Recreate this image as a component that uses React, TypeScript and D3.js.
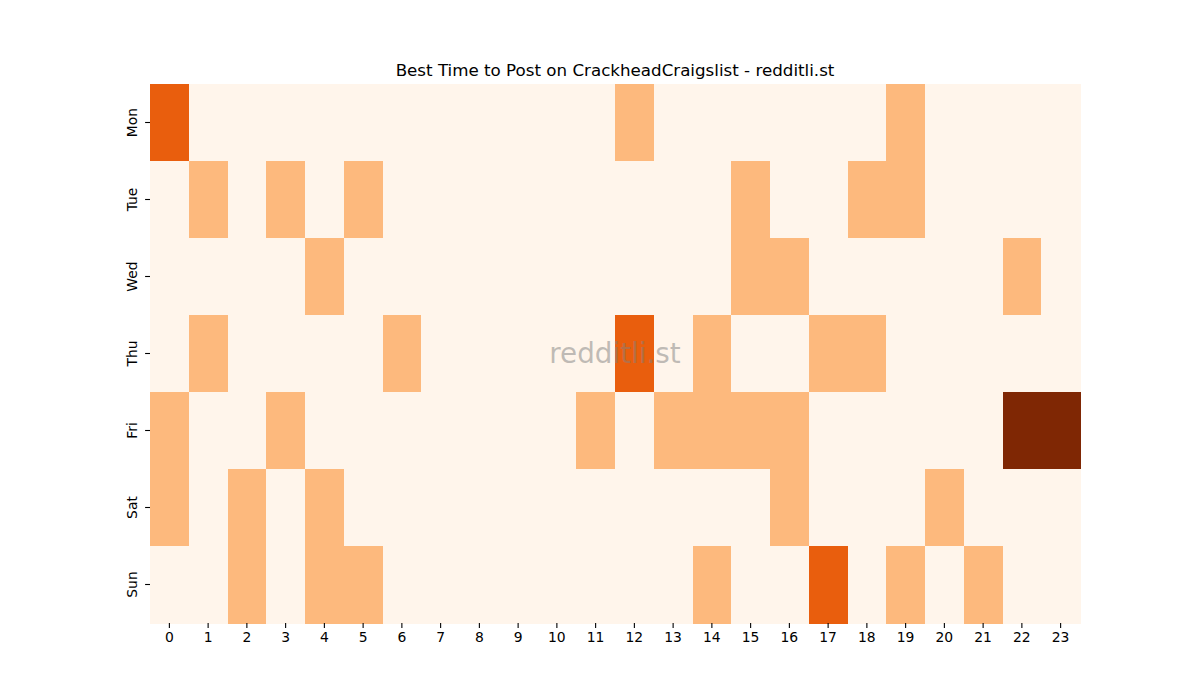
import React, { useEffect, useRef } from 'react';
import * as d3 from 'd3';

const days = ['Mon', 'Tue', 'Wed', 'Thu', 'Fri', 'Sat', 'Sun'];
const hours = d3.range(24);

// post counts per weekday, hour 0..23
const mon = [2, 0, 0, 0, 0, 0, 0, 0, 0, 0, 0, 0, 1, 0, 0, 0, 0, 0, 0, 1, 0, 0, 0, 0];
const tue = [0, 1, 0, 1, 0, 1, 0, 0, 0, 0, 0, 0, 0, 0, 0, 1, 0, 0, 1, 1, 0, 0, 0, 0];
const wed = [0, 0, 0, 0, 1, 0, 0, 0, 0, 0, 0, 0, 0, 0, 0, 1, 1, 0, 0, 0, 0, 0, 1, 0];
const thu = [0, 1, 0, 0, 0, 0, 1, 0, 0, 0, 0, 0, 2, 0, 1, 0, 0, 1, 1, 0, 0, 0, 0, 0];
const fri = [1, 0, 0, 1, 0, 0, 0, 0, 0, 0, 0, 1, 0, 1, 1, 1, 1, 0, 0, 0, 0, 0, 3, 3];
const sat = [1, 0, 1, 0, 1, 0, 0, 0, 0, 0, 0, 0, 0, 0, 0, 0, 1, 0, 0, 0, 1, 0, 0, 0];
const sun = [0, 0, 1, 0, 1, 1, 0, 0, 0, 0, 0, 0, 0, 0, 1, 0, 0, 2, 0, 1, 0, 1, 0, 0];
const counts = [mon, tue, wed, thu, fri, sat, sun];

const palette = ['#fff5eb', '#fdb97d', '#e95e0d', '#7f2704'];

export default function App() {
  const ref = useRef<SVGSVGElement>(null);

  useEffect(() => {
    const width = 1200, height = 700;
    const margin = { top: 84, right: 120, bottom: 77, left: 150 };
    const font = 'DejaVu Sans, sans-serif';

    const svg = d3.select(ref.current);
    svg.selectAll('*').remove();

    const x = d3.scaleBand<number>().domain(hours).range([margin.left, width - margin.right]);
    const y = d3.scaleBand<string>().domain(days).range([margin.top, height - margin.bottom]);
    const color = d3.scaleLinear<string>().domain([0, 1, 2, 3]).range(palette);

    const cells = counts.flatMap((row, i) => row.map((v, h) => ({ day: days[i], hour: h, v })));

    svg.append('g')
      .selectAll('rect')
      .data(cells)
      .join('rect')
      .attr('x', d => x(d.hour)!)
      .attr('y', d => y(d.day)!)
      .attr('width', x.bandwidth() + 0.5)
      .attr('height', y.bandwidth() + 0.5)
      .attr('fill', d => color(d.v))
      .attr('shape-rendering', 'crispEdges');

    // x axis
    svg.append('g')
      .attr('transform', `translate(0,${height - margin.bottom})`)
      .call(d3.axisBottom(x).tickSize(4.9).tickPadding(4.5))
      .call(g => g.select('.domain').remove())
      .call(g => g.selectAll('line').attr('stroke', '#000').attr('stroke-width', 1.1))
      .call(g => g.selectAll('text').attr('font-size', 13.9).attr('font-family', font).attr('fill', '#000'));

    // y axis, rotated labels
    const yAxis = svg.append('g')
      .attr('transform', `translate(${margin.left},0)`)
      .call(d3.axisLeft(y).tickSize(4.9).tickPadding(0))
      .call(g => g.select('.domain').remove())
      .call(g => g.selectAll('line').attr('stroke', '#000').attr('stroke-width', 1.1));
    yAxis.selectAll('text')
      .attr('font-size', 13.9)
      .attr('font-family', font)
      .attr('fill', '#000')
      .attr('x', null)
      .attr('dy', null)
      .attr('text-anchor', 'middle')
      .attr('transform', 'translate(-13,0) rotate(-90)');

    svg.append('text')
      .attr('x', (margin.left + width - margin.right) / 2)
      .attr('y', 76)
      .attr('text-anchor', 'middle')
      .attr('font-family', font)
      .attr('font-size', 16.7)
      .text('Best Time to Post on CrackheadCraigslist - redditli.st');

    // watermark
    svg.append('text')
      .attr('x', (margin.left + width - margin.right) / 2)
      .attr('y', (margin.top + height - margin.bottom) / 2)
      .attr('dy', '0.35em')
      .attr('text-anchor', 'middle')
      .attr('font-family', font)
      .attr('font-size', 27.8)
      .attr('fill', 'gray')
      .attr('fill-opacity', 0.5)
      .text('redditli.st');
  }, []);

  return (
    <svg ref={ref} width={1200} height={700}
      style={{ position: 'absolute', left: 0, top: 0, background: '#fff' }} />
  );
}
